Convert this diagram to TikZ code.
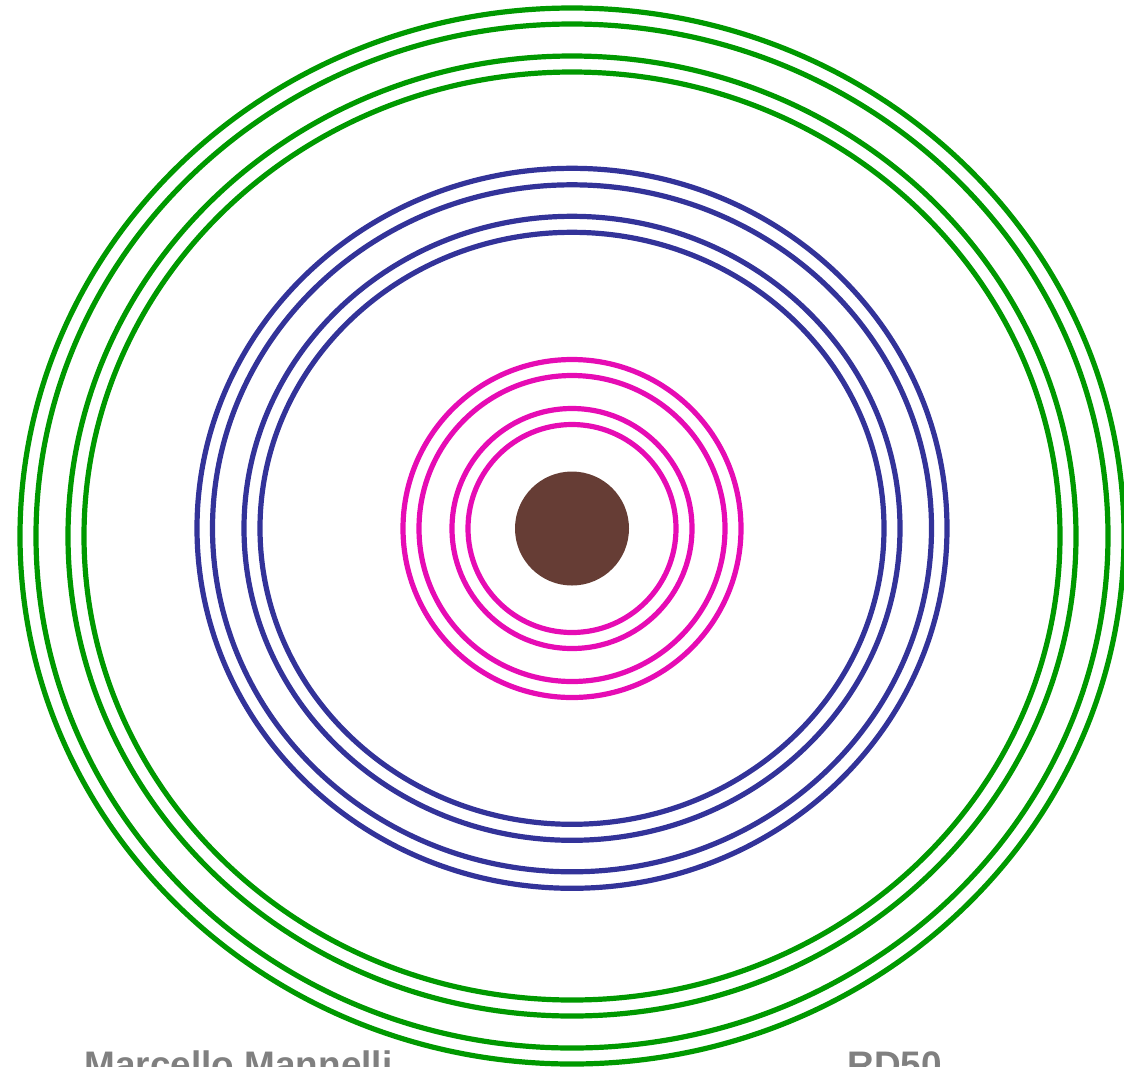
\documentclass[tikz,border=0pt]{standalone}
\usepackage{fontspec}
\setmainfont{Liberation Sans}
\usepackage{tikz}

\definecolor{ringgreen}{RGB}{0,153,0}
\definecolor{ringblue}{RGB}{51,51,153}
\definecolor{ringpink}{RGB}{230,12,180}
\definecolor{corebrown}{RGB}{102,61,53}
\definecolor{signgray}{RGB}{128,128,128}

\begin{document}
\begin{tikzpicture}[x=0.01cm,y=-0.01cm,line width=0.052cm,
  greenring/.style={draw=ringgreen},
  bluering/.style={draw=ringblue},
  pinkring/.style={draw=ringpink},
  signtext/.style={text=signgray,font=\fontsize{10.5}{12}\selectfont\bfseries,inner sep=0pt,anchor=base west}]
  \useasboundingbox (0,0) rectangle (1124,1066);
  % outer green layers
  \foreach \rx/\ry in {552/528,536/512,504/480,488/464} \draw[greenring] (572,536) ellipse [x radius=\rx, y radius=\ry];
  % middle blue layers
  \foreach \rx/\ry in {375/360,359.5/343.5,328/312,312/296} \draw[bluering] (572,528.3) ellipse [x radius=\rx, y radius=\ry];
  % inner pink layers
  \foreach \r in {169,153,120,104} \draw[pinkring] (572,528.5) circle (\r);
  % core
  \fill[corebrown] (572,528.5) circle (57);
  \node[signtext] (author) at (82,1077) {Marcello Mannelli};
  \node[signtext] (tag) at (845,1077) {RD50};
\end{tikzpicture}
\end{document}
